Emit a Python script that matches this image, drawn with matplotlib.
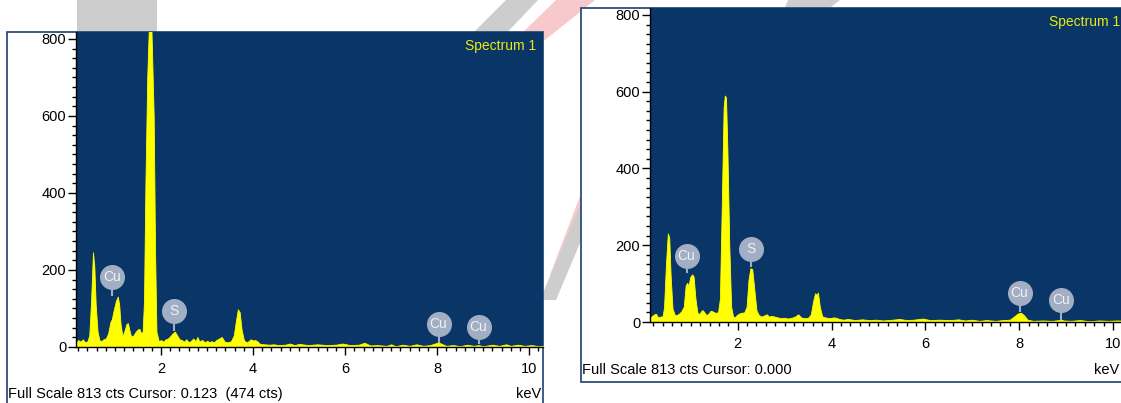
import matplotlib
matplotlib.use('Agg')
import matplotlib.pyplot as plt
from matplotlib.patches import Polygon, Rectangle
from matplotlib.ticker import FixedLocator, MultipleLocator

plt.rcParams['font.family'] = ['Liberation Sans Narrow', 'Liberation Sans', 'DejaVu Sans']

W, H = 1121, 403

# ---------------------------------------------------------------
# EDS spectrum data (energy in keV, counts)

# sample A
left_kev = [0.15, 0.20, 0.25, 0.30, 0.35, 0.40, 0.44, 0.48, 0.52, 0.55,
            0.58, 0.62, 0.66, 0.70, 0.75, 0.80, 0.85, 0.90, 0.93, 0.97,
            1.02, 1.06, 1.09, 1.12, 1.16, 1.20, 1.25, 1.28, 1.31, 1.35,
            1.40, 1.45, 1.50, 1.53, 1.57, 1.60, 1.63, 1.66, 1.70, 1.735,
            1.79, 1.84, 1.87, 1.90, 1.95, 2.00, 2.05, 2.10, 2.15, 2.20,
            2.25, 2.30, 2.35, 2.40, 2.45, 2.50, 2.55, 2.60, 2.65, 2.70,
            2.75, 2.79, 2.83, 2.90, 2.95, 3.00, 3.05, 3.10, 3.15, 3.20,
            3.26, 3.32, 3.38, 3.45, 3.52, 3.58, 3.63, 3.67, 3.71, 3.75,
            3.80, 3.85, 3.90, 3.95, 4.00, 4.05, 4.10, 4.15, 4.25, 4.35,
            4.45, 4.55, 4.70, 4.80, 4.90, 5.00, 5.20, 5.40, 5.60, 5.80,
            5.95, 6.10, 6.30, 6.42, 6.55, 6.70, 6.90, 7.00, 7.10, 7.25,
            7.40, 7.55, 7.70, 7.85, 7.95, 8.03, 8.10, 8.20, 8.35, 8.50,
            8.65, 8.80, 8.90, 9.00, 9.20, 9.35, 9.50, 9.60, 9.75, 9.90,
            10.05, 10.20, 10.30]
left_cts = [10, 18, 14, 20, 12, 15, 30, 120, 246, 210,
            110, 40, 18, 15, 20, 22, 35, 65, 72, 95,
            120, 131, 110, 60, 28, 40, 60, 62, 45, 27,
            30, 40, 46, 47, 35, 40, 120, 420, 700, 830,
            830, 600, 250, 40, 15, 18, 14, 20, 22, 28,
            35, 40, 30, 20, 18, 14, 20, 12, 16, 22,
            15, 26, 15, 18, 12, 16, 13, 15, 12, 18,
            22, 26, 14, 12, 15, 30, 70, 98, 90, 45,
            18, 12, 15, 20, 17, 18, 14, 8, 7, 6,
            7, 5, 6, 9, 5, 8, 5, 7, 5, 6,
            9, 5, 6, 11, 4, 5, 3, 7, 2, 6,
            3, 7, 3, 5, 9, 12, 8, 3, 5, 2,
            6, 3, 5, 2, 6, 3, 7, 3, 6, 3,
            5, 2, 3]

# sample B
right_kev = [0.13, 0.18, 0.22, 0.26, 0.30, 0.35, 0.40, 0.43, 0.47, 0.51,
             0.54, 0.57, 0.61, 0.66, 0.70, 0.75, 0.80, 0.85, 0.89, 0.92,
             0.95, 0.99, 1.03, 1.06, 1.10, 1.14, 1.18, 1.22, 1.25, 1.29,
             1.33, 1.38, 1.42, 1.46, 1.52, 1.58, 1.62, 1.66, 1.70, 1.725,
             1.75, 1.78, 1.82, 1.86, 1.90, 1.94, 1.98, 2.03, 2.08, 2.14,
             2.19, 2.23, 2.27, 2.31, 2.35, 2.40, 2.45, 2.51, 2.56, 2.62,
             2.67, 2.72, 2.79, 2.85, 2.92, 3.00, 3.07, 3.15, 3.22, 3.29,
             3.35, 3.42, 3.50, 3.56, 3.61, 3.65, 3.685, 3.71, 3.75, 3.80,
             3.86, 3.92, 3.98, 4.04, 4.10, 4.16, 4.25, 4.35, 4.50, 4.65,
             4.80, 4.95, 5.10, 5.30, 5.45, 5.60, 5.75, 5.95, 6.10, 6.30,
             6.55, 6.70, 6.85, 7.00, 7.15, 7.30, 7.50, 7.65, 7.80, 7.90,
             7.97, 8.04, 8.10, 8.18, 8.30, 8.50, 8.70, 8.85, 8.90, 8.95,
             9.10, 9.30, 9.50, 9.70, 9.90, 10.10, 10.30]
right_cts = [12, 16, 20, 21, 12, 14, 15, 40, 150, 231,
             220, 120, 35, 18, 18, 22, 28, 40, 95, 102,
             95, 118, 124, 118, 60, 25, 20, 28, 31, 25,
             18, 22, 29, 28, 24, 25, 60, 300, 560, 590,
             585, 450, 200, 40, 15, 12, 18, 22, 24, 25,
             40, 110, 140, 138, 90, 30, 18, 14, 17, 20,
             14, 16, 14, 12, 10, 11, 9, 11, 14, 20,
             12, 10, 11, 20, 55, 75, 70, 77, 40, 15,
             12, 11, 10, 12, 11, 8, 6, 8, 5, 7,
             5, 6, 4, 6, 8, 5, 6, 9, 5, 6,
             5, 7, 4, 6, 3, 5, 3, 5, 6, 15,
             22, 24, 18, 6, 3, 4, 3, 5, 6, 4,
             3, 5, 2, 4, 3, 4, 3]

# element tags: label, keV, bubble height, stem end (counts)
left_tags = ['Cu', 'S', 'Cu', 'Cu']
left_tag_kev = [0.93, 2.29, 8.03, 8.90]
left_tag_top = [181, 94, 61, 53]
left_tag_low = [132, 42, 11, 8]

right_tags = ['Cu', 'S', 'Cu', 'Cu']
right_tag_kev = [0.91, 2.28, 8.01, 8.89]
right_tag_top = [172, 190, 75, 57]
right_tag_low = [127, 143, 26, 5]

x_ticks = [2, 4, 6, 8, 10]
y_ticks = [0, 200, 400, 600, 800]

left_footer = 'Full Scale 813 cts Cursor: 0.123  (474 cts)'
right_footer = 'Full Scale 813 cts Cursor: 0.000'

# colours
NAVY = '#0a3567'
YELLOW = '#ffff00'
TAG = '#a2aec3'
FRAME = '#1d3f73'


def fx(x):
    return x / W


def fy(y):
    return 1 - y / H


def pts(lst):
    return [(fx(x), fy(y)) for x, y in lst]


fig = plt.figure(figsize=(W / 100, H / 100), dpi=100)

# faint logo strokes sitting behind the two windows
grey = '#cdcdcd'
pink = '#f8c9cc'
shapes = [
    ([(77, 0), (157, 0), (157, 40), (77, 40)], grey),
    ([(506, 0), (538, 0), (500, 40), (466, 40)], grey),
    ([(556, 0), (595, 0), (545, 40), (515, 40)], pink),
    ([(788, 0), (840, 0), (815, 20), (780, 20)], grey),
    ([(588, 175), (604, 175), (566, 275), (550, 275)], pink),
    ([(580, 205), (596, 205), (556, 300), (540, 300)], grey),
]
for poly, col in shapes:
    fig.patches.append(Polygon(pts(poly), closed=True, facecolor=col,
                               edgecolor='none', transform=fig.transFigure,
                               zorder=-3))

# window frames
frames = [(7, 32, 543, 420), (581, 8, 1140, 382)]
for x0, y0, x1, y1 in frames:
    fig.patches.append(Rectangle((fx(x0), fy(y1)), fx(x1 - x0), (y1 - y0) / H,
                                 facecolor='white', edgecolor=FRAME, lw=1.2,
                                 transform=fig.transFigure, zorder=-2))


def draw_spectrum(rect, xmin, kev, cts, tags, tag_kev, tag_top, tag_low):
    x0, y0, x1, y1 = rect
    ax = fig.add_axes([fx(x0), fy(y1), fx(x1 - x0), (y1 - y0) / H])
    ax.set_facecolor(NAVY)
    ax.fill_between(kev, cts, 0, color=YELLOW, lw=0.6, zorder=2)
    ax.set_xlim(xmin, 10.30)
    ax.set_ylim(0, 818)

    for s in ['top', 'right']:
        ax.spines[s].set_visible(False)
    for s in ['left', 'bottom']:
        ax.spines[s].set_color('black')
        ax.spines[s].set_linewidth(1.0)

    ax.xaxis.set_major_locator(FixedLocator(x_ticks))
    ax.xaxis.set_minor_locator(MultipleLocator(0.2))
    ax.yaxis.set_major_locator(FixedLocator(y_ticks))
    ax.yaxis.set_minor_locator(MultipleLocator(25))
    ax.tick_params(which='major', direction='out', length=6, width=1,
                   labelsize=10.5, colors='black')
    ax.tick_params(which='minor', direction='out', length=3, width=1,
                   colors='black')
    ax.tick_params(axis='x', pad=5)
    ax.tick_params(axis='y', pad=1)

    # element tag bubbles
    ax.vlines(tag_kev, tag_low, tag_top, color=TAG, lw=1.5, zorder=3)
    ax.plot(tag_kev, tag_top, 'o', ms=17, mfc=TAG, mec=TAG, zorder=4)
    for name, k, t in zip(tags, tag_kev, tag_top):
        ax.text(k, t, name, ha='center', va='center', color='#eef2f8',
                fontsize=10, zorder=5)

    ax.text(0.985, 0.956, 'Spectrum 1', transform=ax.transAxes, ha='right',
            va='center', color='#eaea10', fontsize=10)
    return ax


draw_spectrum((76, 32, 543, 347), 0.152, left_kev, left_cts,
              left_tags, left_tag_kev, left_tag_top, left_tag_low)
draw_spectrum((650, 8, 1127, 322), 0.13, right_kev, right_cts,
              right_tags, right_tag_kev, right_tag_top, right_tag_low)

# status lines under each window
fig.text(fx(8), fy(394), left_footer, ha='left', va='center', fontsize=10.5)
fig.text(fx(541), fy(394), 'keV', ha='right', va='center', fontsize=10.5)
fig.text(fx(582), fy(370), right_footer, ha='left', va='center', fontsize=10.5)
fig.text(fx(1119), fy(370), 'keV', ha='right', va='center', fontsize=10.5)

plt.savefig('out.png', dpi=100)
